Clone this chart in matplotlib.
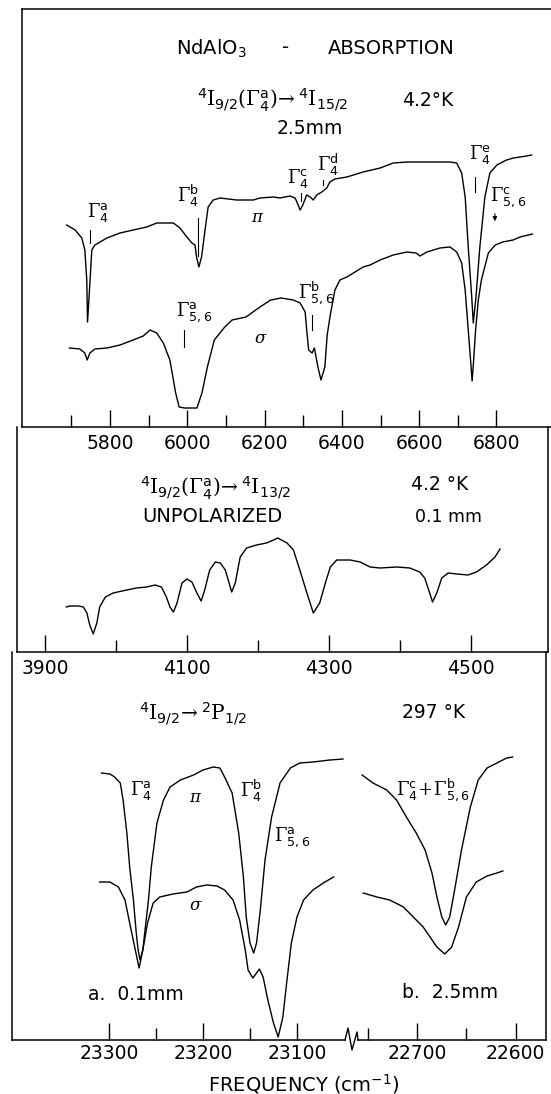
import matplotlib
matplotlib.use("Agg")
import matplotlib.pyplot as plt
from matplotlib.lines import Line2D

plt.rcParams['font.family'] = ['DejaVu Sans']
plt.rcParams['mathtext.fontset'] = 'dejavuserif'

W, H = 551, 1094

# ---- panel 1 : 4I9/2 -> 4I15/2, 4.2 K, 2.5 mm (pi and sigma)
p1_pi_freq = [5688, 5710, 5727, 5735, 5740, 5742, 5747, 5753, 5761, 5792,
              5826, 5860, 5895, 5921, 5964, 5981, 5999, 6012, 6020, 6024,
              6030, 6037, 6046, 6054, 6067, 6085, 6128, 6171, 6188, 6223,
              6240, 6266, 6279, 6287, 6292, 6299, 6309, 6318, 6326, 6335,
              6348, 6361, 6369, 6382, 6413, 6455, 6499, 6533, 6568, 6602,
              6645, 6680, 6697, 6710, 6719, 6727, 6736, 6740, 6747, 6757,
              6770, 6783, 6801, 6826, 6844, 6861, 6878, 6891]
p1_pi_sig = [202, 197, 189, 177, 147, 105, 137, 177, 182, 189,
             194, 197, 200, 204, 204, 199, 190, 184, 182, 170,
             160, 170, 197, 220, 227, 229, 227, 227, 229, 230,
             229, 231, 229, 222, 217, 222, 232, 230, 227, 232,
             235, 239, 245, 248, 250, 255, 259, 264, 265, 265,
             265, 265, 264, 254, 230, 180, 130, 104, 130, 180,
             230, 254, 262, 267, 269, 270, 271, 272]

p1_sg_freq = [5695, 5722, 5735, 5741, 5748, 5761, 5792, 5826, 5860, 5886,
              5904, 5921, 5938, 5955, 5970, 5979, 5993, 6025, 6038, 6052,
              6070, 6097, 6116, 6152, 6188, 6216, 6243, 6274, 6292, 6305,
              6309, 6314, 6323, 6329, 6338, 6346, 6356, 6362, 6370, 6382,
              6395, 6413, 6455, 6473, 6499, 6533, 6568, 6592, 6602, 6620,
              6654, 6680, 6697, 6710, 6719, 6727, 6733, 6737, 6741, 6746,
              6753, 6761, 6779, 6797, 6816, 6843, 6861, 6893]
p1_sg_sig = [79, 78, 74, 67, 74, 78, 79, 82, 87, 91,
             97, 94, 84, 67, 34, 20, 19, 19, 34, 60,
             87, 100, 107, 110, 120, 127, 129, 127, 124, 115,
             97, 77, 74, 79, 60, 47, 60, 92, 112, 137,
             147, 150, 160, 162, 167, 172, 175, 174, 171, 175,
             179, 180, 175, 164, 137, 97, 67, 46, 67, 97,
             127, 147, 174, 182, 185, 187, 190, 193]

p1_major = [5800, 6000, 6200, 6400, 6600, 6800]
p1_minor = [5700, 5900, 6100, 6300, 6500, 6700]

# ---- panel 2 : 4I9/2 -> 4I13/2, unpolarized, 0.1 mm
p2_freq = [3930, 3935, 3947, 3954, 3959, 3963, 3968, 3973, 3977, 3985,
           3996, 4015, 4029, 4043, 4055, 4064, 4071, 4076, 4081, 4086,
           4093, 4100, 4107, 4114, 4120, 4125, 4132, 4140, 4147, 4154,
           4163, 4168, 4175, 4184, 4198, 4212, 4222, 4228, 4241, 4250,
           4259, 4269, 4278, 4287, 4295, 4302, 4311, 4330, 4344, 4358,
           4372, 4396, 4414, 4428, 4435, 4442, 4446, 4452, 4459, 4468,
           4480, 4496, 4508, 4522, 4534, 4541]
p2_sig = [45, 46, 46, 45, 39, 27, 18, 29, 45, 55,
          59, 62, 64, 65, 67, 65, 55, 45, 40, 49,
          69, 73, 70, 59, 51, 62, 82, 90, 89, 82,
          60, 69, 95, 104, 107, 109, 112, 114, 109, 102,
          82, 59, 39, 49, 69, 85, 92, 92, 90, 85,
          84, 85, 84, 80, 74, 59, 50, 59, 74, 79,
          78, 77, 80, 87, 95, 103]

p2_major = [3900, 4100, 4300, 4500]
p2_minor = [4000, 4200, 4400]

# ---- panel 3 : 4I9/2 -> 2P1/2, 297 K
p3a_pi_freq = [23308, 23299, 23294, 23288, 23285, 23281, 23278, 23274, 23271, 23269,
               23267, 23264, 23262, 23258, 23255, 23249, 23242, 23235, 23224, 23210,
               23200, 23189, 23182, 23177, 23169, 23162, 23157, 23154, 23150, 23146,
               23143, 23139, 23134, 23127, 23118, 23107, 23097, 23083, 23065, 23051]
p3a_pi_sig = [267, 266, 263, 257, 240, 207, 173, 140, 107, 90,
              80, 90, 107, 140, 173, 217, 240, 253, 260, 265,
              270, 273, 272, 263, 247, 207, 163, 123, 97, 87,
              97, 130, 180, 223, 257, 272, 277, 278, 280, 281]
p3a_sg_freq = [23310, 23299, 23290, 23283, 23278, 23272, 23268, 23264, 23259, 23253,
               23246, 23232, 23217, 23207, 23196, 23185, 23177, 23168, 23161, 23155,
               23152, 23147, 23143, 23140, 23136, 23131, 23125, 23120, 23115, 23111,
               23106, 23100, 23093, 23083, 23072, 23061]
p3a_sg_sig = [158, 158, 153, 140, 117, 90, 72, 90, 117, 137,
              143, 146, 148, 153, 155, 154, 150, 140, 120, 90,
              70, 62, 67, 71, 63, 40, 17, 3, 23, 57,
              97, 123, 140, 150, 157, 163]
p3b_pi_freq = [22756, 22745, 22731, 22721, 22711, 22701, 22692, 22685, 22680, 22675,
               22671, 22667, 22662, 22655, 22646, 22638, 22629, 22619, 22609, 22603]
p3b_pi_sig = [265, 257, 250, 240, 223, 207, 190, 167, 143, 123,
              115, 123, 150, 190, 233, 260, 272, 277, 282, 283]
p3b_sg_freq = [22755, 22741, 22728, 22714, 22704, 22694, 22687, 22680, 22672, 22665,
               22658, 22650, 22640, 22629, 22619, 22613]
p3b_sg_sig = [147, 143, 140, 133, 123, 113, 103, 93, 86, 93,
              113, 143, 158, 164, 167, 169]

p3a_major = [23300, 23200, 23100]
p3a_minor = [23250, 23150]
p3b_major = [22700, 22600]
p3b_minor = [22750, 22650]

# level labels: (text, freq, y) and the small marker lines (freq, y0, y1)
p1_labels = [(r'$\Gamma^{\mathsf{a}}_{\mathsf{4}}$', 5769, 215),
             (r'$\Gamma^{\mathsf{b}}_{\mathsf{4}}$', 6002, 231),
             (r'$\Gamma^{\mathsf{c}}_{\mathsf{4}}$', 6287, 249),
             (r'$\Gamma^{\mathsf{d}}_{\mathsf{4}}$', 6364, 262),
             (r'$\Gamma^{\mathsf{e}}_{\mathsf{4}}$', 6757, 272),
             (r'$\Gamma^{\mathsf{c}}_{\mathsf{5,6}}$', 6830, 230),
             (r'$\Gamma^{\mathsf{a}}_{\mathsf{5,6}}$', 6018, 115),
             (r'$\Gamma^{\mathsf{b}}_{\mathsf{5,6}}$', 6333, 134)]
p1_marks = [(5748, 184, 197), (6029, 171, 209), (6293, 226, 234), (6350, 242, 247),
            (6745, 235, 250), (5992, 80, 97), (6322, 97, 112)]
p3a_labels = [(r'$\Gamma^{\mathsf{a}}_{\mathsf{4}}$', 23266, 249),
              (r'$\Gamma^{\mathsf{b}}_{\mathsf{4}}$', 23149, 249),
              (r'$\Gamma^{\mathsf{a}}_{\mathsf{5,6}}$', 23105, 203)]
p3b_labels = [(r'$\Gamma^{\mathsf{c}}_{\mathsf{4}}\!+\!\Gamma^{\mathsf{b}}_{\mathsf{5,6}}$', 22684, 250)]


def box(l, t, r, b):
    return [l / W, 1 - b / H, (r - l) / W, (b - t) / H]


def fpos(x, y):
    return x / W, 1 - y / H


def style(ax, lo, hi, ymax, major, minor, pad):
    ax.patch.set_visible(False)
    ax.set_xlim(lo, hi)
    ax.set_ylim(0, ymax)
    ax.set_xticks(major)
    ax.set_xticks(minor, minor=True)
    ax.set_yticks([])
    ax.tick_params(axis='x', which='both', direction='in', width=1.0,
                   labelsize=13.5, pad=pad)
    ax.tick_params(axis='x', which='major', length=12)
    ax.tick_params(axis='x', which='minor', length=8.5)
    for s in ax.spines.values():
        s.set_linewidth(1.1)


LW = 1.0
LFS = 13
TFS = 13.5
fig = plt.figure(figsize=(W / 100, H / 100), dpi=100)

# panel 1
ax1 = fig.add_axes(box(22, 9, 551, 427))
style(ax1, 5572.4, 6941.1, 418, p1_major, p1_minor, 5)
ax1.spines['right'].set_visible(False)
ax1.plot(p1_pi_freq, p1_pi_sig, color='k', lw=LW)
ax1.plot(p1_sg_freq, p1_sg_sig, color='k', lw=LW)
for txt, f, y in p1_labels:
    ax1.text(f, y, txt, fontsize=LFS, ha='center', va='center')
for f, y0, y1 in p1_marks:
    ax1.plot([f, f], [y0, y1], color='k', lw=0.8)
ax1.annotate('', xy=(6796, 203), xytext=(6796, 216),
             arrowprops=dict(arrowstyle='-|>', lw=0.8, color='k', mutation_scale=6))
ax1.text(6183, 210, r'$\pi$', fontsize=12, ha='center', va='center')
ax1.text(6191, 89, r'$\sigma$', fontsize=12, ha='center', va='center')

# panel 2
ax2 = fig.add_axes(box(17, 427, 548, 652))
style(ax2, 3860.5, 4608.7, 225, p2_major, p2_minor, 5)
ax2.spines['top'].set_visible(False)
ax2.plot(p2_freq, p2_sig, color='k', lw=LW)

# panel 3 (broken axis)
ax3a = fig.add_axes(box(12, 652, 345, 1040))
style(ax3a, 23403.2, 23048.9, 388, p3a_major, p3a_minor, 3)
ax3a.spines['top'].set_visible(False)
ax3a.spines['right'].set_visible(False)
ax3a.plot(p3a_pi_freq, p3a_pi_sig, color='k', lw=LW)
ax3a.plot(p3a_sg_freq, p3a_sg_sig, color='k', lw=LW)
for txt, f, y in p3a_labels:
    ax3a.text(f, y, txt, fontsize=LFS, ha='center', va='center')
ax3a.text(23208, 243, r'$\pi$', fontsize=12, ha='center', va='center')
ax3a.text(23208, 135, r'$\sigma$', fontsize=12, ha='center', va='center')
ax3a.text(23322, 45, 'a.  0.1mm', fontsize=TFS, ha='left', va='center')

ax3b = fig.add_axes(box(358, 652, 546, 1040))
style(ax3b, 22760.2, 22569.1, 388, p3b_major, p3b_minor, 3)
ax3b.spines['top'].set_visible(False)
ax3b.spines['left'].set_visible(False)
ax3b.plot(p3b_pi_freq, p3b_pi_sig, color='k', lw=LW)
ax3b.plot(p3b_sg_freq, p3b_sg_sig, color='k', lw=LW)
for txt, f, y in p3b_labels:
    ax3b.text(f, y, txt, fontsize=LFS, ha='center', va='center')
ax3b.text(22667, 48, 'b.  2.5mm', fontsize=TFS, ha='center', va='center')

# axis break symbol
zx = [345, 348, 352, 357, 358]
zy = [1040, 1028, 1050, 1032, 1040]
fig.add_artist(Line2D([x / W for x in zx], [1 - y / H for y in zy],
                      color='k', lw=1.0, transform=fig.transFigure))

# headings
fig.text(*fpos(176, 48), r'NdAlO$_\mathsf{3}$', fontsize=14, ha='left', va='center')
fig.text(*fpos(286, 48), '-', fontsize=14, ha='center', va='center')
fig.text(*fpos(328, 48), 'ABSORPTION', fontsize=14, ha='left', va='center')
fig.text(*fpos(197, 100),
         r'$^\mathsf{4}\mathrm{I}_{\mathsf{9/2}}(\Gamma^{\mathsf{a}}_{\mathsf{4}})'
         r'\!\rightarrow{}^\mathsf{4}\mathrm{I}_{\mathsf{15/2}}$',
         fontsize=14.5, ha='left', va='center')
fig.text(*fpos(402, 100), '4.2°K', fontsize=TFS, ha='left', va='center')
fig.text(*fpos(310, 128), '2.5mm', fontsize=TFS, ha='center', va='center')

fig.text(*fpos(140, 488),
         r'$^\mathsf{4}\mathrm{I}_{\mathsf{9/2}}(\Gamma^{\mathsf{a}}_{\mathsf{4}})'
         r'\!\rightarrow{}^\mathsf{4}\mathrm{I}_{\mathsf{13/2}}$',
         fontsize=14.5, ha='left', va='center')
fig.text(*fpos(411, 485), '4.2 °K', fontsize=TFS, ha='left', va='center')
fig.text(*fpos(142, 517), 'UNPOLARIZED', fontsize=14, ha='left', va='center')
fig.text(*fpos(415, 517), '0.1 mm', fontsize=12.5, ha='left', va='center')

fig.text(*fpos(139, 714),
         r'$^\mathsf{4}\mathrm{I}_{\mathsf{9/2}}\!\rightarrow{}^\mathsf{2}\mathrm{P}_{\mathsf{1/2}}$',
         fontsize=14.5, ha='left', va='center')
fig.text(*fpos(402, 713), '297 °K', fontsize=TFS, ha='left', va='center')
fig.text(*fpos(304, 1084), r'FREQUENCY (cm$^{\mathsf{-1}}$)', fontsize=14,
         ha='center', va='center')

fig.savefig('out.png', dpi=100)
